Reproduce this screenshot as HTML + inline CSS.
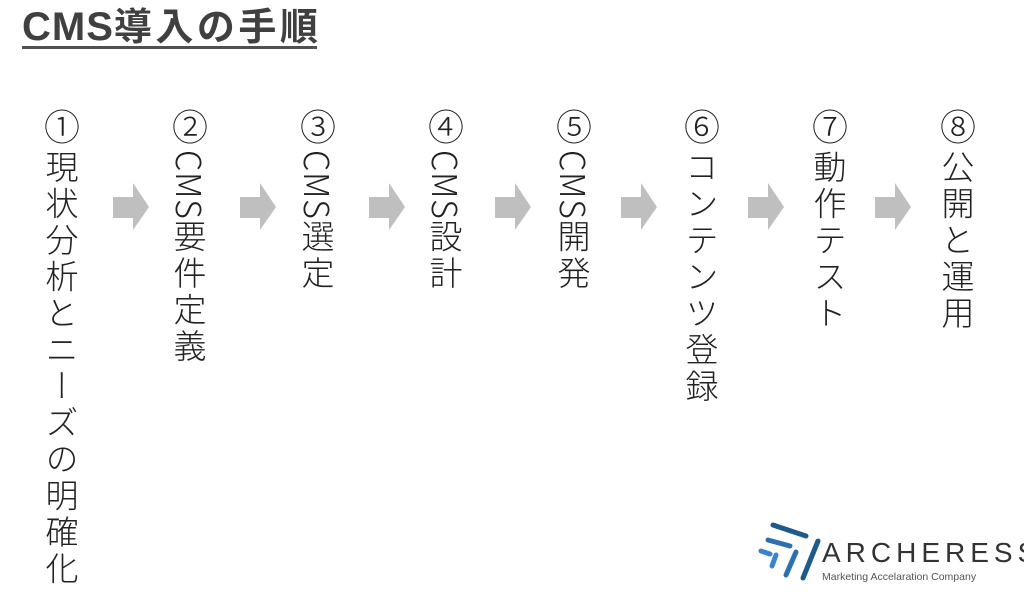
<!DOCTYPE html>
<html><head><meta charset="utf-8"><style>
body{margin:0;width:1024px;height:595px;background:#fff;overflow:hidden;position:relative;font-family:"Liberation Sans","Noto Sans CJK JP",sans-serif}
.t{position:absolute;left:22px;top:4px;font-size:38px;font-weight:bold;color:#404040;letter-spacing:3.5px;line-height:46px;white-space:nowrap}
.t b{letter-spacing:1px;font-size:40px}
.ul{position:absolute;left:22px;top:46px;width:295px;height:3px;background:#505050}
.n{position:absolute;top:103px;width:50px;text-align:center;font-size:36px;line-height:44px;color:#222;font-family:"Noto Sans CJK JP",sans-serif;font-weight:300}
.v{position:absolute;top:150px;writing-mode:vertical-rl;font-size:33px;line-height:40px;color:#222;font-family:"Noto Sans CJK JP",sans-serif;font-weight:300;letter-spacing:3.5px}
.v span{letter-spacing:0.5px;font-size:34px}
</style></head><body>
<div class="t"><b>CMS</b>導入の手順</div><div class="ul"></div>

<div class="n" style="left:37px">①</div>
<div class="n" style="left:165px">②</div>
<div class="n" style="left:293px">③</div>
<div class="n" style="left:421px">④</div>
<div class="n" style="left:549px">⑤</div>
<div class="n" style="left:677px">⑥</div>
<div class="n" style="left:805px">⑦</div>
<div class="n" style="left:933px">⑧</div>

<div class="v" style="left:42px">現状分析とニーズの明確化</div>
<div class="v" style="left:170px"><span>CMS</span>要件定義</div>
<div class="v" style="left:298px"><span>CMS</span>選定</div>
<div class="v" style="left:426px"><span>CMS</span>設計</div>
<div class="v" style="left:554px"><span>CMS</span>開発</div>
<div class="v" style="left:682px">コンテンツ登録</div>
<div class="v" style="left:810px">動作テスト</div>
<div class="v" style="left:938px">公開と運用</div>

<svg style="position:absolute;left:0;top:0" width="1024" height="595">
<defs><polygon id="ar" points="0,14 20,14 20,0 36,24 20,47 20,35 0,35" fill="#bfbfbf"/></defs>
<use href="#ar" x="113" y="183"/>
<use href="#ar" x="240" y="183"/>
<use href="#ar" x="369" y="183"/>
<use href="#ar" x="495" y="183"/>
<use href="#ar" x="621" y="183"/>
<use href="#ar" x="748" y="183"/>
<use href="#ar" x="875" y="183"/>
<g stroke-linecap="round" fill="none">
<line x1="773" y1="525" x2="806" y2="536" stroke="#1e5a8a" stroke-width="5"/>
<line x1="768" y1="540" x2="790" y2="546" stroke="#2d6fb0" stroke-width="5"/>
<line x1="761" y1="551" x2="770" y2="554" stroke="#3b82d0" stroke-width="5"/>
<line x1="772" y1="566" x2="776" y2="555" stroke="#3b82d0" stroke-width="5"/>
<line x1="786" y1="575" x2="796" y2="552" stroke="#2d6fb0" stroke-width="5"/>
<line x1="803" y1="578" x2="818" y2="541" stroke="#1e5a8a" stroke-width="5"/>
</g>
<text x="822" y="562" font-family="Liberation Sans,sans-serif" font-size="28" fill="#333" letter-spacing="5">ARCHERESS</text>
<text x="822" y="580" font-family="Liberation Sans,sans-serif" font-size="10.5" fill="#555">Marketing Accelaration Company</text>
</svg>
</body></html>
